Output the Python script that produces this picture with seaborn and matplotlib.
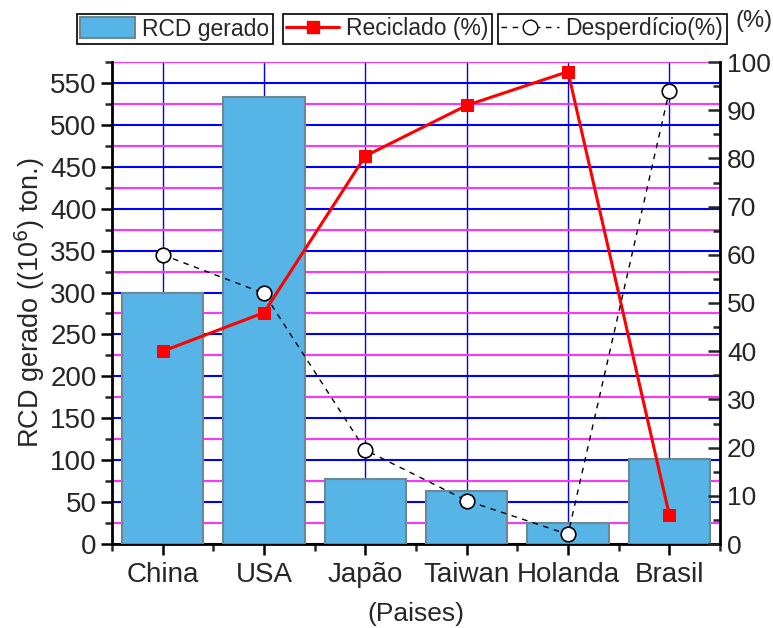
import matplotlib
matplotlib.use("Agg")
import matplotlib.pyplot as plt
import seaborn as sns
import numpy as np
from matplotlib.patches import Patch
from matplotlib.lines import Line2D
from matplotlib.ticker import MultipleLocator

# ---- data ----
categories = ["China", "USA", "Japão", "Taiwan", "Holanda", "Brasil"]
rcd_gerado = [300, 533, 77, 63, 25, 101]
reciclado = [40, 48, 80.5, 91, 98, 6]
desperdicio = [60, 52, 19.5, 9, 2, 94]

sns.set_style("ticks")
plt.rcParams["font.family"] = ["Liberation Sans", "DejaVu Sans"]
plt.rcParams["font.size"] = 16

BAR_COLOR = "#56B4E6"
BAR_EDGE = "#6E8795"
BLUE = "#0000FF"
MAGENTA = "#FF33FF"
TICK_FS = 20

fig = plt.figure(figsize=(7.73, 6.28), dpi=100)
ax = fig.add_axes([112 / 773, 1 - 544 / 628, (720 - 112) / 773, (544 - 62) / 628])

sns.barplot(x=categories, y=rcd_gerado, ax=ax, color=BAR_COLOR, saturation=1,
            edgecolor=BAR_EDGE, linewidth=1.5, width=0.8, zorder=3)

ax.set_xlim(-0.5, len(categories) - 0.5)
ax.set_ylim(0, 575)
ax.yaxis.set_major_locator(MultipleLocator(50))
ax.yaxis.set_minor_locator(MultipleLocator(25))
ax.xaxis.set_minor_locator(MultipleLocator(1, offset=0.5))
ax.set_axisbelow(True)
ax.grid(True, which="major", axis="y", color=BLUE, lw=1.5, zorder=0)
ax.grid(True, which="minor", axis="y", color=MAGENTA, lw=1.5, zorder=0)
ax.grid(True, which="major", axis="x", color=BLUE, lw=1.0, zorder=0)

ax.tick_params(axis="both", which="major", direction="out", length=8, width=1.8,
               labelsize=TICK_FS, color="black")
ax.tick_params(axis="both", which="minor", direction="out", length=5, width=1.8)
ax.tick_params(axis="x", which="major", pad=5)
ax.tick_params(axis="y", which="major", pad=3)
ax.set_ylabel("RCD gerado ((10$^6$) ton.)", fontsize=19.5, labelpad=2)
ax.set_xlabel("(Paises)", fontsize=19, labelpad=10)

for s in ["left", "bottom"]:
    ax.spines[s].set_linewidth(2)
    ax.spines[s].set_color("black")
ax.spines["top"].set_visible(False)
ax.spines["right"].set_visible(False)

ax2 = ax.twinx()
xpos = np.arange(len(categories))
sns.lineplot(x=xpos, y=reciclado, ax=ax2, color="#FF0000", lw=2.2, marker="s",
             markersize=8.5, markeredgecolor="#FF0000", markerfacecolor="#FF0000", zorder=5)
sns.lineplot(x=xpos, y=desperdicio, ax=ax2, color="black", lw=1.0, linestyle=(0, (4, 4)),
             marker="o", markersize=10.5, markerfacecolor="white",
             markeredgecolor="black", markeredgewidth=1.2, zorder=6)
ax2.set_ylim(0, 100)
ax2.set_xlim(-0.5, len(categories) - 0.5)
ax2.yaxis.set_major_locator(MultipleLocator(10))
ax2.yaxis.set_minor_locator(MultipleLocator(5))
ax2.tick_params(axis="y", which="major", direction="in", length=9, width=1.8,
                labelsize=19, pad=5)
ax2.tick_params(axis="y", which="minor", direction="in", length=5, width=1.8)
ax2.set_ylabel("")
ax2.spines["right"].set_linewidth(2)
ax2.spines["right"].set_color("black")
for s in ["top", "left", "bottom"]:
    ax2.spines[s].set_visible(False)

fig.text(754 / 773, 1 - 21 / 628, "(%)", ha="center", va="center", fontsize=17)

# ---- legends (three separate boxes) ----
common = dict(loc="upper left", frameon=True, fancybox=False, edgecolor="black",
              framealpha=1, borderpad=0.15, handletextpad=0.3, borderaxespad=0,
              fontsize=16.5)
h1 = Patch(facecolor=BAR_COLOR, edgecolor=BAR_EDGE, lw=1.5)
l1 = fig.legend(handles=[h1], labels=["RCD gerado"], bbox_to_anchor=(77 / 773, 1 - 14 / 628),
                handlelength=2.4, handleheight=1.0, **common)
h2 = Line2D([], [], color="#FF0000", lw=2.2, marker="s", markersize=8.5)
l2 = fig.legend(handles=[h2], labels=["Reciclado (%)"], bbox_to_anchor=(283 / 773, 1 - 14 / 628),
                handlelength=2.3, **common)
h3 = Line2D([], [], color="black", lw=1.0, linestyle=(0, (4, 4)), marker="o", markersize=10.5,
            markerfacecolor="white", markeredgecolor="black")
l3 = fig.legend(handles=[h3], labels=["Desperdício(%)"], bbox_to_anchor=(498 / 773, 1 - 14 / 628),
                handlelength=2.5, **common)
for lg in (l1, l2, l3):
    lg.get_frame().set_linewidth(1.2)

fig.savefig("out.png", dpi=100)
